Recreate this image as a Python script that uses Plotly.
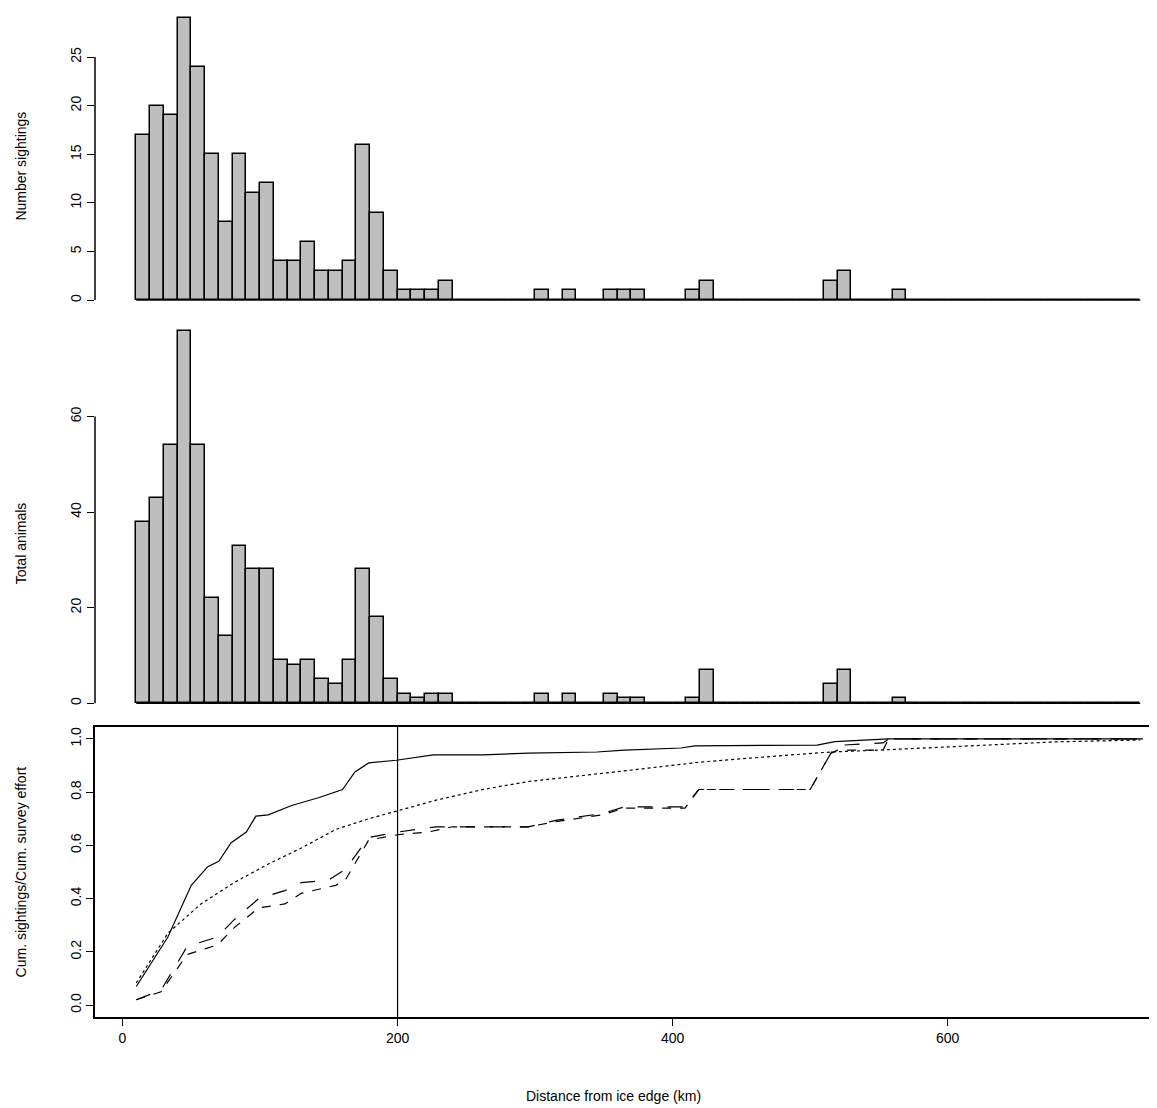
import plotly.graph_objects as go

# bins 10 km wide, from 10 to 740 km
bin_left = list(range(10, 740, 10))

sightings = [17, 20, 19, 29, 24, 15, 8, 15, 11, 12, 4, 4, 6, 3, 3, 4, 16, 9, 3, 1, 1, 1, 2,
             0, 0, 0, 0, 0, 0, 1, 0, 1, 0, 0, 1, 1, 1, 0, 0, 0, 1, 2, 0, 0, 0, 0, 0, 0, 0, 0,
             2, 3, 0, 0, 0, 1, 0, 0, 0, 0, 0, 0, 0, 0, 0, 0, 0, 0, 0, 0, 0, 0, 0]
animals = [38, 43, 54, 78, 54, 22, 14, 33, 28, 28, 9, 8, 9, 5, 4, 9, 28, 18, 5, 2, 1, 2, 2,
           0, 0, 0, 0, 0, 0, 2, 0, 2, 0, 0, 2, 1, 1, 0, 0, 0, 1, 7, 0, 0, 0, 0, 0, 0, 0, 0,
           4, 7, 0, 0, 0, 1, 0, 0, 0, 0, 0, 0, 0, 0, 0, 0, 0, 0, 0, 0, 0, 0, 0]

# cumulative curves (distance km, proportion)
cum_sight_x = [10, 20, 33, 50, 62, 70, 79, 90, 97, 106, 123, 143, 160, 169, 179, 199, 226, 262,
               295, 345, 365, 406, 416, 505, 518, 557, 742]
cum_sight_y = [0.07, 0.15, 0.256, 0.45, 0.52, 0.54, 0.61, 0.65, 0.71, 0.715, 0.75, 0.78, 0.81,
               0.876, 0.91, 0.92, 0.94, 0.94, 0.947, 0.951, 0.958, 0.966, 0.974, 0.977, 0.99,
               1.0, 1.0]
cum_effort_x = [10, 33, 57, 81, 106, 130, 155, 179, 200, 228, 262, 295, 358, 422, 486, 515, 550,
                614, 678, 740]
cum_effort_y = [0.083, 0.27, 0.38, 0.46, 0.53, 0.59, 0.66, 0.70, 0.73, 0.77, 0.81, 0.84, 0.876,
                0.914, 0.94, 0.951, 0.958, 0.974, 0.989, 0.996]
cum_a_x = [10, 28, 47, 69, 81, 99, 118, 130, 150, 162, 179, 200, 228, 295, 316, 349, 365, 409,
           419, 500, 515, 520, 553, 557, 740]
cum_a_y = [0.02, 0.056, 0.22, 0.256, 0.32, 0.40, 0.43, 0.46, 0.47, 0.51, 0.63, 0.65, 0.67, 0.67,
           0.695, 0.72, 0.745, 0.745, 0.81, 0.81, 0.946, 0.976, 0.985, 1.0, 1.0]
cum_b_x = [10, 28, 47, 69, 81, 99, 118, 130, 155, 162, 179, 200, 222, 240, 295, 316, 349, 365,
           409, 419, 500, 515, 520, 553, 557, 740]
cum_b_y = [0.02, 0.05, 0.19, 0.226, 0.29, 0.365, 0.38, 0.42, 0.45, 0.47, 0.62, 0.64, 0.65, 0.67,
           0.67, 0.69, 0.715, 0.74, 0.74, 0.81, 0.81, 0.946, 0.958, 0.958, 1.0, 1.0]

font = dict(family="Liberation Sans, Arial", size=14, color="black")
XR = [-20, 758]

fig = go.Figure()
centers = [b + 5 for b in bin_left]
for vals, xa, ya in [(sightings, "x", "y"), (animals, "x2", "y2")]:
    fig.add_trace(go.Scatter(x=[bin_left[0], bin_left[-1] + 10], y=[0, 0], mode="lines",
                             line=dict(color="black", width=1.5), xaxis=xa, yaxis=ya))
    fig.add_trace(go.Bar(x=centers, y=vals, width=10, marker=dict(color="#BEBEBE",
                         line=dict(color="black", width=1.5)), xaxis=xa, yaxis=ya))

for xs, ys, dash in [(cum_sight_x, cum_sight_y, "solid"), (cum_effort_x, cum_effort_y, "dot"),
                     (cum_a_x, cum_a_y, "longdash"), (cum_b_x, cum_b_y, "dash")]:
    fig.add_trace(go.Scatter(x=xs, y=ys, mode="lines", line=dict(color="black", width=1.2, dash=dash),
                             xaxis="x3", yaxis="y3"))

hidden_x = dict(range=XR, visible=False)
yax = dict(ticks="outside", ticklen=7, tickangle=-90, showgrid=False, zeroline=False,
           showline=False, tickfont=font, tickcolor="black")
fig.update_layout(
    width=1157, height=1108, margin=dict(l=87, r=0, t=0, b=0, autoexpand=False),
    plot_bgcolor="white", paper_bgcolor="white", showlegend=False, font=font, bargap=0,
    xaxis=dict(hidden_x, anchor="y"),
    xaxis2=dict(hidden_x, anchor="y2"),
    xaxis3=dict(range=XR, anchor="y3", tickvals=[0, 200, 400, 600], ticks="outside", ticklen=7,
                showline=True, mirror=True, linecolor="black", linewidth=1.5, showgrid=False,
                zeroline=False, tickfont=font, tickcolor="black"),
    yaxis=dict(yax, domain=[0.732, 1.0], range=[-0.5, 30.05], tickvals=[0, 5, 10, 15, 20, 25]),
    yaxis2=dict(yax, domain=[0.3682, 0.7175], range=[-1, 80], tickvals=[0, 20, 40, 60]),
    yaxis3=dict(yax, domain=[0.0893, 0.3511], range=[-0.045, 1.045],
                tickvals=[0, 0.2, 0.4, 0.6, 0.8, 1.0], ticktext=["0.0", "0.2", "0.4", "0.6", "0.8", "1.0"],
                showline=True, mirror=True, linecolor="black", linewidth=1.5),
)
# short axis lines like R for histograms
fig.add_shape(type="line", xref="x domain", yref="y", x0=0, x1=0, y0=0, y1=25,
              line=dict(color="black", width=1.5))
fig.add_shape(type="line", xref="x2 domain", yref="y2", x0=0, x1=0, y0=0, y1=60,
              line=dict(color="black", width=1.5))
fig.add_shape(type="line", xref="x3", yref="y3 domain", x0=200, x1=200, y0=0, y1=1,
              line=dict(color="black", width=1.2))

for txt, yc in [("Number sightings", 0.857), ("Total animals", 0.517),
                ("Cum. sightings/Cum. survey effort", 0.22)]:
    fig.add_annotation(text=txt, textangle=-90, xref="paper", yref="paper", x=-0.069, y=yc,
                       xanchor="center", yanchor="middle", showarrow=False, font=font)
fig.add_annotation(text="Distance from ice edge (km)", xref="paper", yref="paper", x=0.485,
                   y=0.009, showarrow=False, font=font)

fig.write_html("out.html")
